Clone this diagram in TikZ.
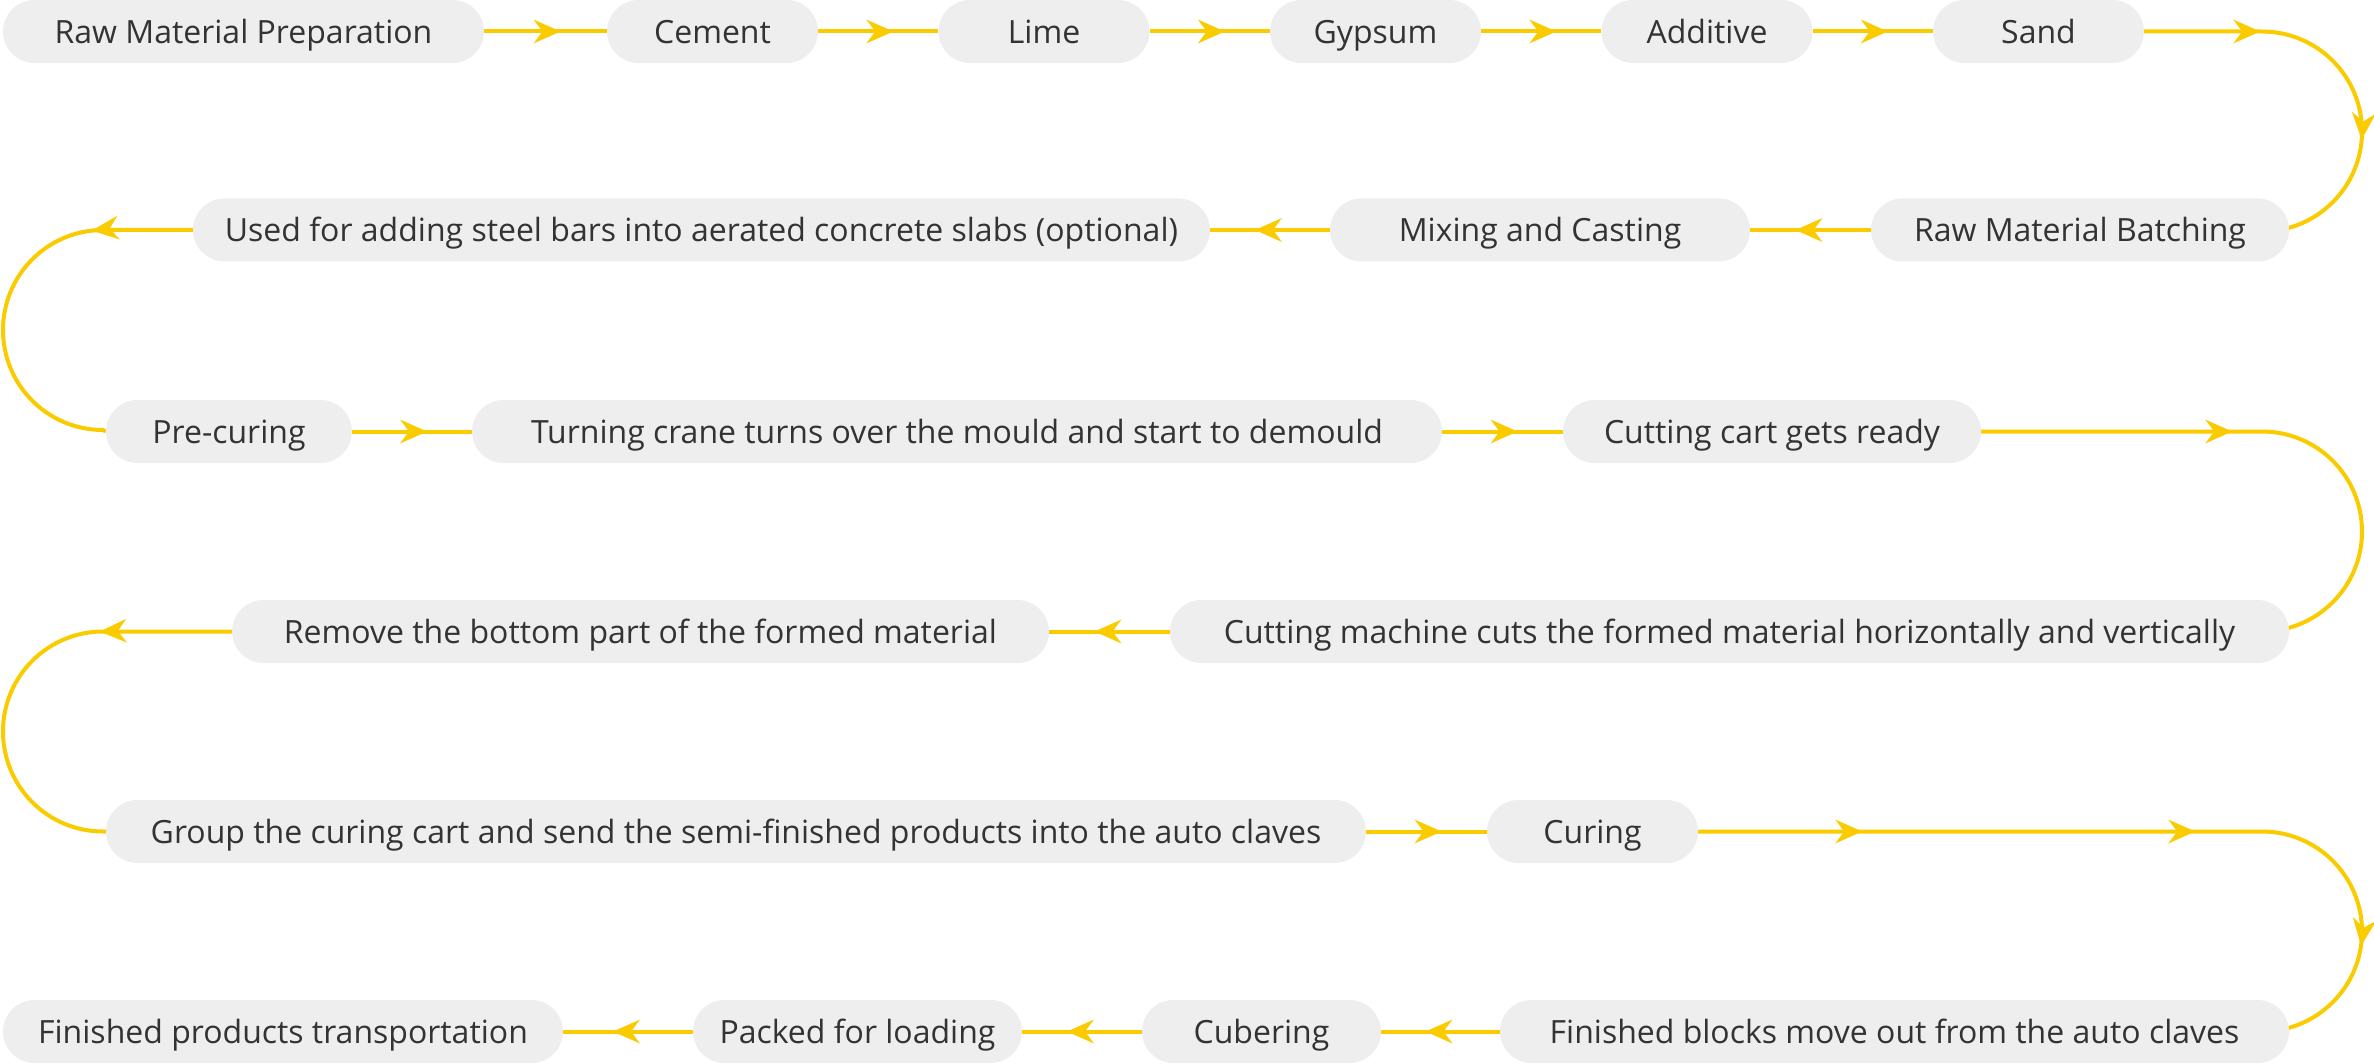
\documentclass[tikz,border=0pt]{standalone}
\usepackage{fontspec}
\setmainfont{Open Sans}
\usetikzlibrary{arrows.meta,decorations.markings,backgrounds}
\definecolor{lineY}{HTML}{FACC00}
\definecolor{boxG}{HTML}{EEEEEE}
\definecolor{txtG}{HTML}{333333}
\begin{document}
\begin{tikzpicture}[x=1pt,y=-1pt,
  stepbox/.style={fill=boxG, text=txtG, rounded corners=31.5pt, minimum height=63pt,
    inner sep=0pt, text height=30pt, text depth=6pt, anchor=center,
    font=\fontsize{32}{38}\selectfont},
  conn/.style={draw=lineY, line width=4pt},
  ytip/.tip={Stealth[length=27pt,width=24pt,inset=9pt,line width=0pt]},
  midtip/.style={postaction={decorate, decoration={markings,
    mark=at position 0.5 with {\pgftransformxshift{15pt}\arrow[lineY]{ytip}}}}},
  tipat/.style={postaction={decorate, decoration={markings,
    mark=at position #1 with {\arrow[lineY]{ytip}}}}},
]
\useasboundingbox (0,0) rectangle (2374,1064);

% row 1
\node[stepbox, minimum width=481pt] (rmp) at (243.5,31.5) {Raw Material Preparation};
\node[stepbox, minimum width=211pt] (cem) at (712.5,31.5) {Cement};
\node[stepbox, minimum width=211pt] (lime) at (1044,31.5) {Lime};
\node[stepbox, minimum width=211pt] (gyp) at (1375.5,31.5) {Gypsum};
\node[stepbox, minimum width=211pt] (add) at (1707,31.5) {Additive};
\node[stepbox, minimum width=211pt] (sand) at (2038.5,31.5) {Sand};
% row 2
\node[stepbox, minimum width=418pt] (rmb) at (2080,230) {Raw Material Batching};
\node[stepbox, minimum width=420pt] (mix) at (1540,230) {Mixing and Casting};
\node[stepbox, minimum width=1017pt] (used) at (701.5,230) {Used for adding steel bars into aerated concrete slabs (optional)};
% row 3
\node[stepbox, minimum width=246pt] (pre) at (229,431.5) {Pre-curing};
\node[stepbox, minimum width=970pt] (turn) at (957,431.5) {Turning crane turns over the mould and start to demould};
\node[stepbox, minimum width=418pt] (cart) at (1772,431.5) {Cutting cart gets ready};
% row 4
\node[stepbox, minimum width=1119pt] (cutm) at (1729.5,631.5) {Cutting machine cuts the formed material horizontally and vertically};
\node[stepbox, minimum width=817pt] (rem) at (640.5,631.5) {Remove the bottom part of the formed material};
% row 5
\node[stepbox, minimum width=1260pt] (grp) at (736,831.5) {Group the curing cart and send the semi-finished products into the auto claves};
\node[stepbox, minimum width=211pt] (cur) at (1592.5,831.5) {Curing};
% row 6
\node[stepbox, minimum width=789pt] (fin) at (1894.5,1031.5) {Finished blocks move out from the auto claves};
\node[stepbox, minimum width=239pt] (cub) at (1261.5,1031.5) {Cubering};
\node[stepbox, minimum width=329pt] (pack) at (857.5,1031.5) {Packed for loading};
\node[stepbox, minimum width=560pt] (fpt) at (283,1031.5) {Finished products transportation};

% turning points of the loops
\coordinate (r1) at (2262,31.5);
\coordinate (l1) at (103,230);
\coordinate (r2) at (2262,431.5);
\coordinate (l2) at (103,631.5);
\coordinate (r3) at (2262,831.5);

\begin{scope}[on background layer]
\draw[conn, midtip] (rmp.east) -- (cem.west);
\draw[conn, midtip] (cem.east) -- (lime.west);
\draw[conn, midtip] (lime.east) -- (gyp.west);
\draw[conn, midtip] (gyp.east) -- (add.west);
\draw[conn, midtip] (add.east) -- (sand.west);
\draw[conn, tipat=116pt, tipat=283pt] (sand.east) -- (r1) arc[start angle=90, end angle=-90, radius=100pt] -- (rmb.east);
\draw[conn, midtip] (rmb.west) -- (mix.east);
\draw[conn, midtip] (mix.west) -- (used.east);
\draw[conn, tipat=101pt] (used.west) -- (l1) arc[start angle=90, end angle=270, radius=100pt] -- (pre.west);
\draw[conn, midtip] (pre.east) -- (turn.west);
\draw[conn, midtip] (turn.east) -- (cart.west);
\draw[conn, tipat=251pt] (cart.east) -- (r2) arc[start angle=90, end angle=-90, radius=100pt] -- (cutm.east);
\draw[conn, midtip] (cutm.west) -- (rem.east);
\draw[conn, tipat=132pt] (rem.west) -- (l2) arc[start angle=90, end angle=270, radius=100pt] -- (grp.west);
\draw[conn, midtip] (grp.east) -- (cur.west);
\draw[conn, tipat=164pt, tipat=497pt, tipat=735pt] (cur.east) -- (r3) arc[start angle=90, end angle=-90, radius=100pt] -- (fin.east);
\draw[conn, midtip] (fin.west) -- (cub.east);
\draw[conn, midtip] (cub.west) -- (pack.east);
\draw[conn, midtip] (pack.west) -- (fpt.east);
\end{scope}
\end{tikzpicture}
\end{document}
